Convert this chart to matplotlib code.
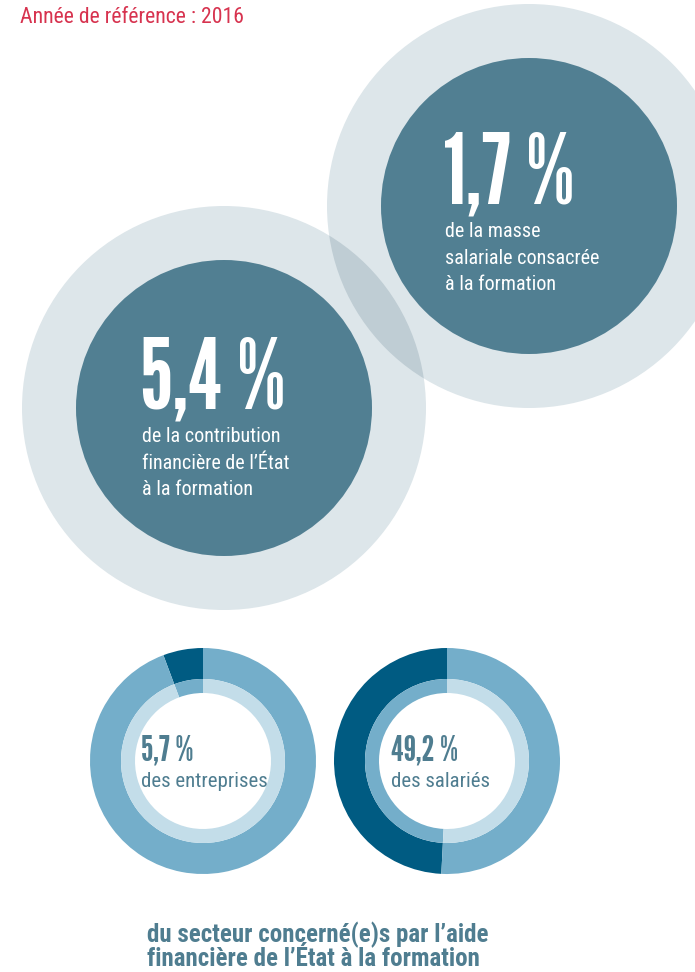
import matplotlib
matplotlib.use("Agg")
import matplotlib.pyplot as plt
from matplotlib.patches import Circle

# Données
title = "Année de référence : 2016"
circle_values = [1.7, 5.4]
circle_labels = [
    ["de la masse", "salariale consacrée", "à la formation"],
    ["de la contribution", "financière de l’État", "à la formation"],
]
donut_values = [5.7, 49.2]
donut_labels = ["des entreprises", "des salariés"]
footer = ["du secteur concerné(e)s par l’aide", "financière de l’État à la formation"]

def fr(v):
    return f"{v:.1f}".replace(".", ",") + " %"

BIG = ["League Gothic", "DejaVu Sans"]
BODY = ["Roboto Condensed", "DejaVu Sans"]

# couleurs
red = "#d7334f"
ring = "#dde6ea"
lens = "#bfcdd4"
dark = "#517f92"
d_dark = "#005b82"
d_mid = "#74aeca"
d_light = "#c3dde9"
teal = "#4f7d90"

fig = plt.figure(figsize=(6.95, 9.72), dpi=100)
ax = fig.add_axes([0, 0, 1, 1])

# grands cercles
centers = [(529, 206), (224, 408)]
R_out, R_in = 202, 148
outer = []
for c in centers:
    p = Circle(c, R_out, color=ring, lw=0, zorder=1)
    ax.add_patch(p)
    outer.append(p)
ov = Circle(centers[1], R_out, color=lens, lw=0, zorder=2)
ax.add_patch(ov)
ov.set_clip_path(outer[0])
for c in centers:
    ax.add_patch(Circle(c, R_in, color=dark, lw=0, zorder=3))

text_pos = [(443, 203), (140, 408)]
for (x, y), v, lines in zip(text_pos, circle_values, circle_labels):
    ax.text(x, y, fr(v), color="white", fontsize=70, family=BIG,
            ha="left", va="baseline", zorder=5)
    for i, line in enumerate(lines):
        ax.text(x + 2, y + 34 + i * 26.5, line, color="white", fontsize=14.5,
                family=BODY, ha="left", va="baseline", zorder=5)

# anneaux
d_centers = [(203, 761), (447, 761)]
d_text_x = [141, 391]
for (cx, cy), tx, v, lab in zip(d_centers, d_text_x, donut_values, donut_labels):
    ax.pie([v, 100 - v], colors=[d_dark, d_mid], radius=113, center=(cx, cy),
           startangle=-90, counterclock=False, wedgeprops=dict(width=31, lw=0))
    ax.pie([v, 100 - v], colors=[d_mid, d_light], radius=82, center=(cx, cy),
           startangle=-90, counterclock=False, wedgeprops=dict(width=14, lw=0))
    ax.text(tx, cy - 1, fr(v), color=teal, fontsize=26, family=BIG,
            ha="left", va="baseline")
    ax.text(tx, cy + 26, lab, color=teal, fontsize=15, family=BODY,
            ha="left", va="baseline")

ax.text(20, 23, title, color=red, fontsize=15.7, family=BODY, ha="left", va="baseline")
for i, line in enumerate(footer):
    ax.text(147, 942 + i * 23.5, line, color=teal, fontsize=18, family=BODY,
            weight="bold", ha="left", va="baseline")

ax.set_xlim(0, 695)
ax.set_ylim(972, 0)
ax.set_aspect("equal")
ax.axis("off")
fig.savefig("out.png", dpi=100)
